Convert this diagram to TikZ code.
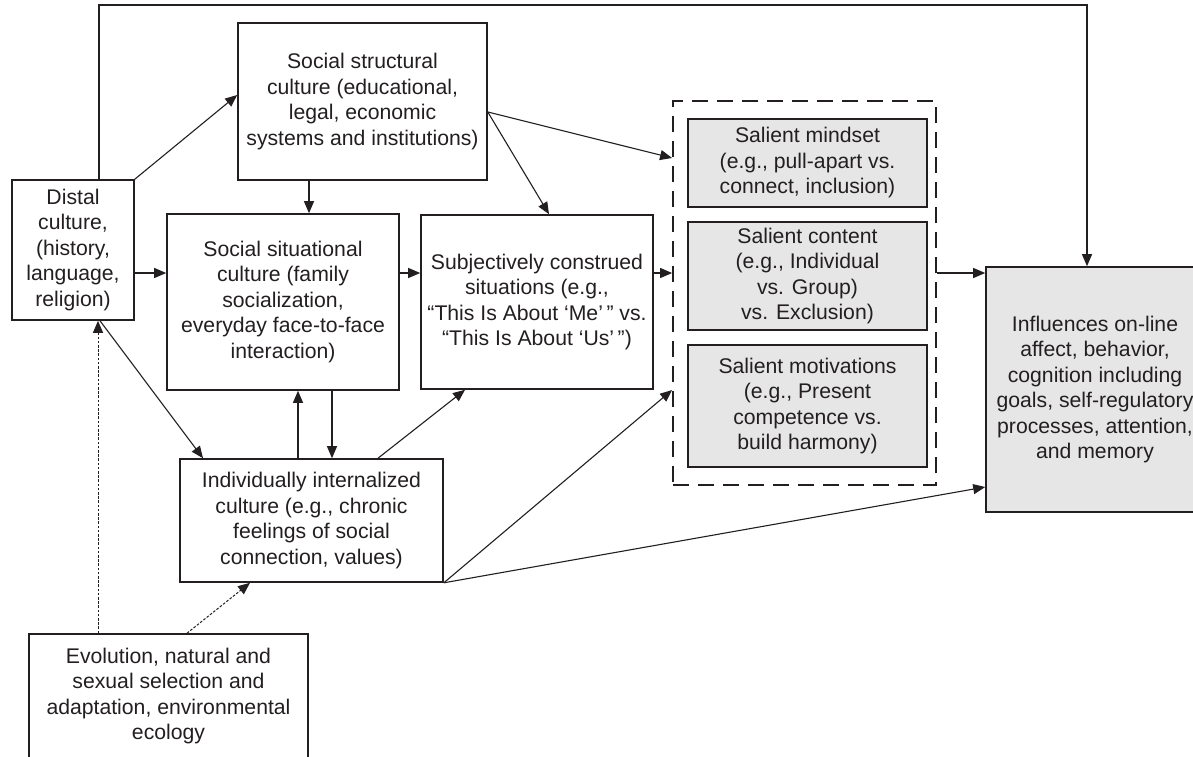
\documentclass[tikz,border=0pt]{standalone}
\usepackage{fontspec}
\setmainfont{Liberation Sans}
\usetikzlibrary{arrows.meta}
\definecolor{ink}{HTML}{231F20}
\definecolor{boxgray}{HTML}{E6E6E7}
\begin{document}
\begin{tikzpicture}[x=1pt,y=-1pt,
  every node/.style={font=\fontsize{21.2pt}{25.5pt}\selectfont, text=ink, align=center, inner sep=0pt},
  box/.style={draw=ink, line width=1.6pt, fill=white},
  graybox/.style={draw=ink, line width=1.6pt, fill=boxgray},
  dashbox/.style={draw=ink, line width=1.8pt, dash pattern=on 16pt off 9pt},
  arr/.style={draw=ink, line width=1.1pt, -{Triangle[length=12pt,width=10pt]}},
  darr/.style={draw=ink, line width=1pt, dash pattern=on 2.6pt off 1.6pt, -{Triangle[length=12pt,width=10pt]}},
]
\useasboundingbox (0,0) rectangle (1193,756);
\fill[white] (0,0) rectangle (1193,756);

% boxes
\node[box, minimum width=122pt, minimum height=140pt] (distal) at (73,250)
  {Distal\\culture,\\(history,\\language,\\religion)};
\node[box, minimum width=249pt, minimum height=157pt] (struct) at (362.5,101.5)
  {Social structural\\culture (educational,\\legal, economic\\systems and institutions)};
\node[box, minimum width=232pt, minimum height=176pt] (situ) at (283,302)
  {Social situational\\culture (family\\socialization,\\everyday face-to-face\\interaction)};
\node[box, minimum width=232pt, minimum height=174pt] (subj) at (537,302)
  {Subjectively construed\\situations (e.g.,\\“This Is About ‘Me’\,” vs.\\“This Is About ‘Us’\,”)};
\node[box, minimum width=263pt, minimum height=123pt] (intern) at (311.5,520.5)
  {Individually internalized\\culture (e.g., chronic\\feelings of social\\connection, values)};
\node[box, minimum width=279pt, minimum height=124pt] (evol) at (168.5,696)
  {Evolution, natural and\\sexual selection and\\adaptation, environmental\\ecology};

\node[dashbox, minimum width=263pt, minimum height=384pt] (salbox) at (804.5,293) {};
\node[graybox, minimum width=239pt, minimum height=88pt] (mind) at (807.5,163)
  {Salient mindset\\(e.g., pull-apart vs.\\connect, inclusion)};
\node[graybox, minimum width=239pt, minimum height=108pt] (content) at (807.5,276)
  {Salient content\\(e.g., Individual\\vs. Group)\\vs. Exclusion)};
\node[graybox, minimum width=239pt, minimum height=122pt] (motiv) at (807.5,406)
  {Salient motivations\\(e.g., Present\\competence vs.\\build harmony)};

\node[graybox, minimum width=218pt, minimum height=245pt] (infl) at (1095,389.5)
  {Influences on-line\\affect, behavior,\\cognition including\\goals, self-regulatory\\processes, attention,\\and memory};

\coordinate (top) at (600,5);

% connectors
\draw[arr] ([xshift=26pt]distal.north) |- (top) -| ([xshift=-8pt]infl.north);
\draw[arr] (distal.north east) -- ([yshift=6.5pt]struct.west);
\draw[arr] ([xshift=-53.5pt]struct.south) -- ([xshift=-53.5pt]struct.south |- situ.north);
\draw[arr] ([yshift=-23pt]distal.east) -- ([yshift=-23pt]distal.east -| situ.west);
\draw[arr] ([yshift=29pt]situ.east) -- ([yshift=29pt]situ.east -| subj.west);
\draw[arr] ([yshift=-10.5pt]struct.east) -- ([yshift=135pt]salbox.west);
\draw[arr] ([yshift=-10.5pt]struct.east) -- ([xshift=12pt]subj.north);
\draw[arr] ([yshift=29pt]subj.east) -- ([yshift=29pt]subj.east -| salbox.west);
\draw[arr] ([yshift=20pt]salbox.east) -- ([yshift=20pt]salbox.east -| infl.west);
\draw[arr] ([xshift=27pt]distal.south) -- ([xshift=-108.5pt]intern.north);
\draw[arr] ([xshift=-13.5pt]intern.north) -- ([xshift=-13.5pt]intern.north |- situ.south);
\draw[arr] ([xshift=49pt]situ.south) -- ([xshift=49pt]situ.south |- intern.north);
\draw[arr] ([xshift=66.5pt]intern.north) -- ([xshift=-72pt]subj.south);
\draw[arr] (intern.south east) -- ([yshift=-97pt]salbox.west);
\draw[arr] (intern.south east) -- ([yshift=-97.5pt]infl.west);
\draw[darr] ([xshift=-70.5pt]evol.north) -- ([xshift=25pt]distal.south);
\draw[darr] ([xshift=18.5pt]evol.north) -- ([xshift=-61.5pt]intern.south);
\end{tikzpicture}
\end{document}
